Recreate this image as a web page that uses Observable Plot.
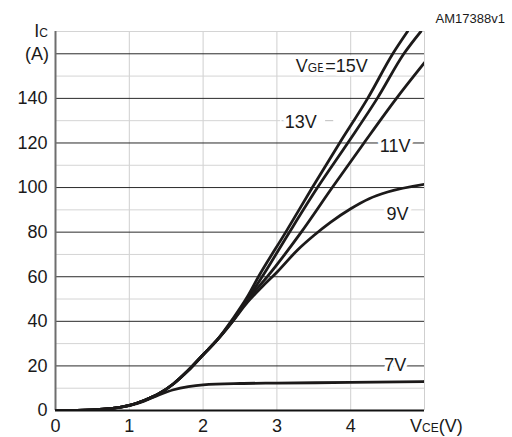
<!DOCTYPE html>
<html>
<head>
<meta charset="utf-8">
<script src="https://cdn.jsdelivr.net/npm/d3@7"></script>
<script src="https://cdn.jsdelivr.net/npm/@observablehq/plot@0.6"></script>
<style>
  html, body { margin: 0; padding: 0; background: #fff; }
  svg { font-family: "Liberation Sans", Arial, sans-serif; }
</style>
</head>
<body>
<div id="chart"></div>
<script>
// ---- data ----
const xTicks = [0, 1, 2, 3, 4];
const yTicks = [0, 20, 40, 60, 80, 100, 120, 140];
const yMajor = [20, 40, 60, 80, 100, 120, 140, 160];
const yMinor = [10, 30, 50, 70, 90, 110, 130, 150, 170];
const xGrid = [1, 2, 3, 4, 5];

const v15x = [0, 0.5, 1, 1.2, 1.4, 1.6, 1.8, 2.0, 2.2, 2.4, 2.6, 2.75, 3.12, 3.48, 3.85, 4.23, 4.57, 4.77];
const v15y = [0, 0.3, 2.3, 4.5, 7.5, 12, 18, 25, 32, 41, 51, 60, 80, 100, 120, 140, 160, 170];
const v13x = [0, 0.5, 1, 1.2, 1.4, 1.6, 1.8, 2.0, 2.2, 2.4, 2.6, 2.8, 3.17, 3.55, 3.96, 4.36, 4.72, 4.95];
const v13y = [0, 0.3, 2.3, 4.5, 7.5, 12, 18, 25, 32, 40.5, 50, 60, 80, 100, 120, 140, 160, 170];
const v11x = [0, 0.5, 1, 1.2, 1.4, 1.6, 1.8, 2.0, 2.2, 2.4, 2.6, 2.87, 3.33, 3.75, 4.18, 4.62, 5.0];
const v11y = [0, 0.3, 2.3, 4.5, 7.5, 12, 18, 25, 32, 40, 49.5, 60, 80, 100, 120, 140, 156];
const v9x = [0, 0.5, 1, 1.2, 1.4, 1.6, 1.8, 2.0, 2.2, 2.4, 2.6, 2.8, 3.0, 3.28, 3.5, 3.73, 4.0, 4.25, 4.5, 5.0];
const v9y = [0, 0.3, 2.3, 4.5, 7.5, 12, 18, 25, 32, 40, 48.5, 55.5, 62, 72, 78.5, 84.5, 90.5, 95, 98, 101.5];
const v7x = [0, 0.5, 1, 1.2, 1.4, 1.6, 1.8, 2.0, 2.5, 3.0, 4.0, 5.0];
const v7y = [0, 0.3, 2.2, 4.2, 7, 9.3, 10.7, 11.5, 12.1, 12.3, 12.6, 13];

const seriesNames = ["15V", "13V", "11V", "9V", "7V"];
const seriesX = [v15x, v13x, v11x, v9x, v7x];
const seriesY = [v15y, v13y, v11y, v9y, v7y];

// curve labels: main letter, subscript, rest, anchor (data units)
const labelMain = ["V", "", "", "", ""];
const labelSub = ["GE", "", "", "", ""];
const labelRest = ["=15V", "13V", "11V", "9V", "7V"];
const labelX = [3.75, 3.33, 4.61, 4.64, 4.61];
const labelY = [154.6, 129.5, 118.5, 88.3, 20.2];

// partially hidden minor grid line behind the "13V" label
const gapY = 130;
const gapFrom = 3.05, gapTo = 4.1;
const dashFrom = [3.07, 3.36, 3.66, 4.0];
const dashTo = [3.13, 3.41, 3.77, 4.08];

const rows = [];
seriesNames.forEach((s, i) => seriesX[i].forEach((x, j) => rows.push({s, x, y: seriesY[i][j]})));
const dashes = dashFrom.map((d, i) => ({x1: d, x2: dashTo[i], y: gapY}));

const plot = Plot.plot({
  width: 512,
  height: 437,
  marginLeft: 55,
  marginRight: 88,
  marginTop: 31,
  marginBottom: 27,
  x: {domain: [0, 5]},
  y: {domain: [0, 170]},
  style: {fontFamily: "Liberation Sans, Arial, sans-serif", fontSize: "18px", color: "#1a1a1a", background: "#fff"},
  marks: [
    Plot.ruleX(xGrid, {stroke: "#cfcfcf", strokeWidth: 1}),
    Plot.ruleY(yMinor, {stroke: "#d4d4d4", strokeWidth: 1}),
    Plot.ruleY([gapY], {x1: gapFrom, x2: gapTo, stroke: "#fff", strokeWidth: 3}),
    Plot.ruleY(dashes, {x1: "x1", x2: "x2", y: "y", stroke: "#bdbdbd", strokeWidth: 1}),
    Plot.ruleY(yMajor, {stroke: "#2a2a2a", strokeWidth: 1}),
    Plot.ruleX([0], {stroke: "#6e6e6e", strokeWidth: 2}),
    Plot.ruleY([0], {stroke: "#111", strokeWidth: 2.2}),
    Plot.line(rows, {x: "x", y: "y", z: "s", stroke: "#1c1a1a", strokeWidth: 2.8, curve: "monotone-x", clip: true}),
    Plot.axisY(yTicks, {tickSize: 0, tickPadding: 8, fontSize: 18, fill: "#1a1a1a", label: null}),
    Plot.axisX(xTicks, {tickSize: 0, tickPadding: 9, fontSize: 18, fill: "#1a1a1a", label: null})
  ]
});
document.getElementById("chart").appendChild(plot);

// annotations with small-cap subscripts, positioned through the plot's scales
const sx = plot.scale("x"), sy = plot.scale("y");
const svg = d3.select(plot);

function richText(parts, x, y, anchor, halo) {
  const t = svg.append("text")
    .attr("x", x).attr("y", y)
    .attr("text-anchor", anchor)
    .attr("fill", "#1a1a1a")
    .style("font-family", "Liberation Sans, Arial, sans-serif");
  if (halo) t.attr("stroke", "#fff").attr("stroke-width", 7).attr("paint-order", "stroke").attr("stroke-linejoin", "round");
  parts.forEach(([txt, size]) => { if (txt) t.append("tspan").attr("font-size", size).text(txt); });
  return t;
}

// curve labels (baseline = centre + half cap height)
labelRest.forEach((r, i) => {
  richText([[labelMain[i], 18], [labelSub[i], 12], [r, 18]], sx.apply(labelX[i]), sy.apply(labelY[i]) + 6.5, "middle", true);
});

// axis titles
richText([["I", 18], ["C", 12]], sx.apply(0) - 7, sy.apply(170) + 6, "end", false);
richText([["(A)", 18]], sx.apply(0) - 6, sy.apply(160) + 7, "end", false);
richText([["V", 18], ["CE", 12], ["(V)", 18]], sx.apply(5) - 14, sy.apply(0) + 22, "start", false);
richText([["AM17388v1", 13]], sx.apply(5) + 81, sy.apply(170) - 8, "end", false);
</script>
</body>
</html>
